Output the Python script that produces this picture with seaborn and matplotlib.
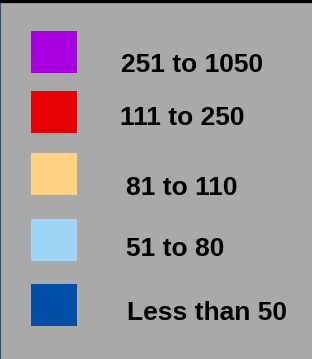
import matplotlib
matplotlib.use("Agg")
import matplotlib.pyplot as plt
import seaborn as sns
import pandas as pd

# legend data
labels = ["251 to 1050", "111 to 250", "81 to 110", "51 to 80", "Less than 50"]
colors = ["#A800E0", "#E80000", "#FFD282", "#9ED4F8", "#0050AA"]

# layout (pixel positions inside the 312x359 canvas)
swatch_x = 54
swatch_y = [52, 112, 174, 240, 305]
text_x = [121, 120, 126, 126, 127]
text_y = [65, 118, 188, 249, 313]

df = pd.DataFrame({"label": labels, "x": swatch_x, "y": swatch_y})

sns.set_style("white")
plt.rcParams["font.family"] = ["Liberation Sans", "DejaVu Sans"]

fig = plt.figure(figsize=(3.12, 3.59), dpi=100)
fig.patch.set_facecolor("#A9A9A9")
ax = fig.add_axes([0, 0, 1, 1])
ax.set_facecolor("#A9A9A9")

# slightly wider than tall swatch (46 x 42 px)
rect = [(-1, -42 / 46), (1, -42 / 46), (1, 42 / 46), (-1, 42 / 46), (-1, -42 / 46)]
sns.scatterplot(
    data=df, x="x", y="y", hue="label", palette=dict(zip(labels, colors)),
    marker=rect, s=(46 * 0.72) ** 2, linewidth=0, legend=False, ax=ax
)

for lab, tx, ty in zip(labels, text_x, text_y):
    ax.text(tx, ty, lab, fontsize=19, fontweight="bold", color="black",
            ha="left", va="center")

ax.set_xlim(0, 312)
ax.set_ylim(359, 0)
ax.set_xticks([])
ax.set_yticks([])
ax.set_xlabel("")
ax.set_ylabel("")

# border: thick black top, thin dark left
ax.spines["top"].set_color("black")
ax.spines["top"].set_linewidth(4.5)
ax.spines["left"].set_color("#3A4A6A")
ax.spines["left"].set_linewidth(1.5)
ax.spines["right"].set_visible(False)
ax.spines["bottom"].set_visible(False)

fig.savefig("out.png", dpi=100, facecolor=fig.get_facecolor())
